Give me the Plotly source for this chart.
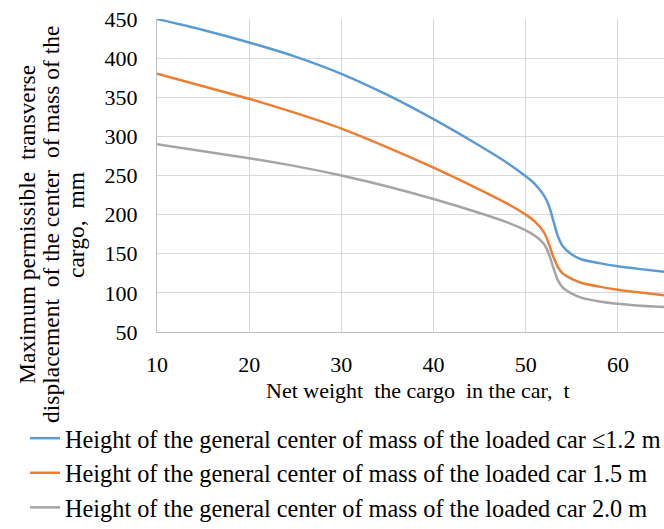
import plotly.graph_objects as go

x_blue = [10, 15, 20, 25, 30, 35, 40, 45, 48, 50, 51, 52, 52.5, 53, 53.5, 54, 55, 56, 58, 60, 62, 65]
y_blue = [450, 436, 420, 402, 380, 353, 322, 288, 266, 249, 239, 224, 212, 192, 172, 160, 149, 143, 138, 134, 131, 127]

x_orange = [10, 15, 20, 25, 30, 35, 40, 45, 48, 50, 51, 52, 52.5, 53, 53.5, 54, 55, 56, 58, 60, 62, 65]
y_orange = [380, 364, 348, 330, 310, 286, 260, 232, 214, 200, 191, 177, 163, 146, 133, 125, 118, 113, 108, 104, 101, 97]

x_gray = [10, 15, 20, 25, 30, 35, 40, 45, 48, 50, 51, 52, 52.5, 53, 53.5, 54, 55, 56, 58, 60, 62, 65]
y_gray = [290, 281, 272, 262, 250, 236, 220, 202, 190, 180, 173, 162, 150, 132, 116, 107, 99, 94, 89, 86, 84, 82]

names = [
    "Height of the general center of mass of the loaded car \u22641.2 m",
    "Height of the general center of mass of the loaded car 1.5 m",
    "Height of the general center of mass of the loaded car 2.0 m",
]
colors = ["#5B9BD5", "#ED7D31", "#A5A5A5"]

x_ticks = [10, 20, 30, 40, 50, 60]
y_ticks = [50, 100, 150, 200, 250, 300, 350, 400, 450]

x_title = "Net weight\u00a0 the cargo\u00a0 in the car,\u00a0 t"
y_title_lines = [
    "Maximum permissible\u00a0 transverse",
    "displacement\u00a0 of the center\u00a0 of mass of the",
    "cargo,\u00a0 mm",
]

FONT = "Liberation Serif, Times New Roman, serif"
L, T, B, W, H = 157, 19, 197, 664, 529
PW, PH = W - L, H - T - B

fig = go.Figure()
for xs, ys, nm, c in zip([x_blue, x_orange, x_gray], [y_blue, y_orange, y_gray], names, colors):
    fig.add_trace(go.Scatter(x=xs, y=ys, mode="lines", name=nm,
                             line=dict(color=c, width=2.5, shape="spline", smoothing=0.8)))

fig.update_layout(
    width=W, height=H,
    margin=dict(l=L, r=0, t=T, b=B, autoexpand=False),
    paper_bgcolor="white", plot_bgcolor="white",
    font=dict(family=FONT, size=22, color="#000000"),
    showlegend=True,
    legend=dict(x=(25 - L) / PW, y=-0.268, xanchor="left", yanchor="top",
                font=dict(family=FONT, size=24.3, color="#000000"),
                tracegroupgap=0, itemwidth=30, bgcolor="rgba(0,0,0,0)"),
    xaxis=dict(range=[10, 65], tickvals=x_ticks, showgrid=True, gridcolor="#D9D9D9", gridwidth=1.3,
               showline=True, linecolor="#BFBFBF", linewidth=1.3, zeroline=False,
               ticks="", ticklabelstandoff=12,
               tickfont=dict(family=FONT, size=22)),
    yaxis=dict(range=[50, 450], tickvals=y_ticks, showgrid=True, gridcolor="#D9D9D9", gridwidth=1.3,
               showline=True, linecolor="#BFBFBF", linewidth=1.3, zeroline=False,
               ticks="", ticklabelstandoff=14,
               tickfont=dict(family=FONT, size=22)),
)

# x-axis title
fig.add_annotation(text=x_title, xref="paper", yref="paper",
                   x=(418 - L) / PW, y=(PH + T - 390) / PH,
                   xanchor="center", yanchor="middle", showarrow=False,
                   font=dict(family=FONT, size=22, color="#000000"))

# y-axis title, three rotated lines
for line, px in zip(y_title_lines, [27, 51, 76]):
    fig.add_annotation(text=line, textangle=-90, xref="paper", yref="paper",
                       x=(px - L) / PW, y=(PH + T - 225) / PH,
                       xanchor="center", yanchor="middle", showarrow=False,
                       font=dict(family=FONT, size=23.5, color="#000000"))

fig.write_html("out.html", config={"displayModeBar": False},
               post_script="document.body.style.margin='0';document.body.style.overflow='hidden';")
